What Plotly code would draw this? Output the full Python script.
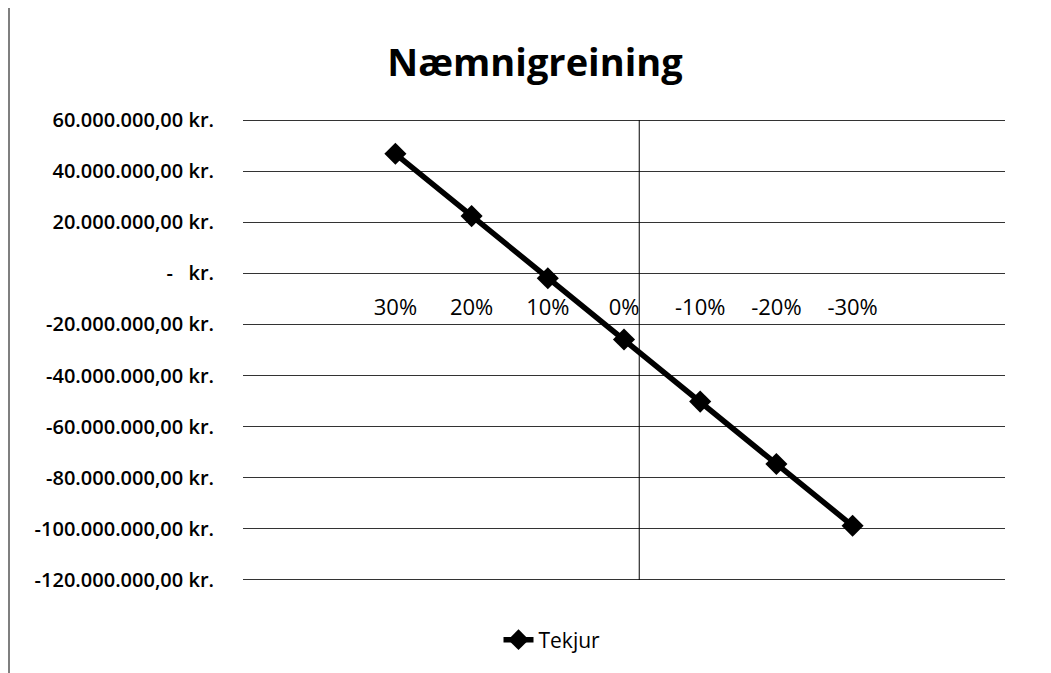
import plotly.graph_objects as go

categories = ["30%", "20%", "10%", "0%", "-10%", "-20%", "-30%"]
cat_pos = [30, 20, 10, 0, -10, -20, -30]
tekjur = [46.8e6, 22.4e6, -1.9e6, -25.9e6, -50.2e6, -74.6e6, -98.8e6]
y_ticks = [60e6, 40e6, 20e6, 0, -20e6, -40e6, -60e6, -80e6, -100e6, -120e6]
y_labels = ["60.000.000,00 kr.", "40.000.000,00 kr.", "20.000.000,00 kr.", "-   kr.",
            "-20.000.000,00 kr.", "-40.000.000,00 kr.", "-60.000.000,00 kr.",
            "-80.000.000,00 kr.", "-100.000.000,00 kr.", "-120.000.000,00 kr."]
value_axis_cross = -2  # category-axis position where the vertical value-axis line sits

FONT = "Open Sans"
OFF = 8  # page body margin offset

W, H = 1051 - OFF, 673 - OFF
L, R, T, B = 243 - OFF, 46, 118 - OFF, 91
pw, ph = W - L - R, H - T - B
eps = 0.8e6  # keeps the end gridlines from being clipped

fig = go.Figure()
fig.add_trace(go.Scatter(
    x=cat_pos, y=tekjur, mode="lines+markers", name="Tekjur",
    line=dict(color="black", width=5.5),
    marker=dict(symbol="diamond", size=17, color="black"),
))

fig.update_layout(
    width=W, height=H,
    margin=dict(l=L, r=R, t=T, b=B),
    paper_bgcolor="white", plot_bgcolor="white",
    font=dict(family=FONT, color="black", size=15),
    title=dict(text="<b>Næmnigreining</b>", x=(535 - OFF) / W, xanchor="center",
               y=1 - (63 - OFF) / H, yanchor="middle",
               font=dict(size=38, family=FONT, color="black")),
    showlegend=True,
    legend=dict(orientation="h", x=(552 - OFF - L) / pw, xanchor="center",
                y=(H - B - (640 - OFF)) / ph, yanchor="middle",
                font=dict(size=21, family=FONT, color="black")),
    xaxis=dict(range=[50, -50], tickvals=cat_pos, ticktext=categories, showgrid=False,
               zeroline=False, showline=False, ticks="", anchor="free",
               position=(0 - (-120e6 - eps)) / (60e6 + eps - (-120e6 - eps)),
               ticklabelstandoff=19,
               tickfont=dict(size=22, family=FONT, color="black")),
    yaxis=dict(range=[-120e6 - eps, 60e6 + eps], tickvals=y_ticks, ticktext=y_labels,
               showgrid=True, gridcolor="#333333", gridwidth=1, zeroline=False,
               showline=False, ticks="", ticklabelstandoff=28,
               tickfont=dict(size=20, family=FONT, color="black", weight=600)),
)

fig.add_shape(type="line", xref="x", yref="y", x0=value_axis_cross, x1=value_axis_cross,
              y0=-120e6, y1=60e6, line=dict(color="black", width=1))
# left edge of the chart frame visible in the scan
fig.add_shape(type="line", xref="paper", yref="paper", x0=-(L - 1) / pw, x1=-(L - 1) / pw,
              y0=(H - B) / ph, y1=-B / ph, line=dict(color="#555555", width=1.5))

fig.write_html("out.html")
